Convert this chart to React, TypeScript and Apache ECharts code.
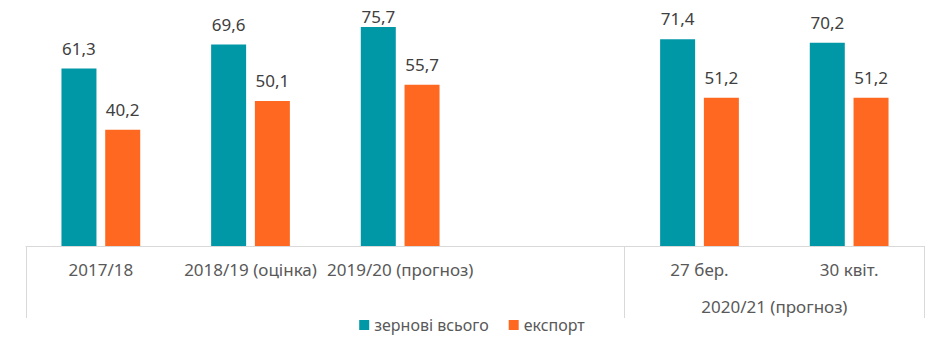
import React, { useEffect, useRef } from "react";
import * as echarts from "echarts";

const categories = ["2017/18", "2018/19 (оцінка)", "2019/20 (прогноз)", "", "27 бер.", "30 квіт."];
const groupLabels = ["", "", "2020/21 (прогноз)"];
const grainTotal: (number | string)[] = [61.3, 69.6, 75.7, "-", 71.4, 70.2];
const exportValues: (number | string)[] = [40.2, 50.1, 55.7, "-", 51.2, 51.2];
const seriesNames = ["зернові всього", "експорт"];
const colors = ["#0097A7", "#FF6820"];

const FONT = "Noto Sans";

export default function App() {
  const ref = useRef<HTMLDivElement>(null);
  useEffect(() => {
    if (!ref.current) return;
    const chart = echarts.init(ref.current, undefined, { renderer: "svg" });
    const label = {
      show: true,
      position: "top" as const,
      distance: 12,
      color: "#404040",
      fontFamily: FONT,
      fontSize: 17,
      formatter: (p: any) => String(p.value).replace(".", ","),
    };
    // the tallest bar's label is tucked closer to the bar (as in the reference) so it isn't clipped
    const maxVal = Math.max(...(grainTotal.filter((v) => typeof v === "number") as number[]));
    const grainData = grainTotal.map((v) =>
      v === maxVal ? { value: v, label: { distance: 2 } } : v
    );
    chart.setOption({
      animation: false,
      textStyle: { fontFamily: FONT },
      grid: { left: 26, right: 20, top: 0, height: 246, containLabel: false },
      legend: {
        bottom: 17,
        left: "center",
        icon: "rect",
        itemWidth: 10,
        itemHeight: 10,
        itemGap: 20,
        textStyle: { color: "#595959", fontSize: 16, fontFamily: FONT },
        data: seriesNames,
      },
      xAxis: [
        {
          type: "category",
          data: categories,
          axisLine: { show: true, lineStyle: { color: "#D9D9D9", width: 1 } },
          axisTick: {
            show: true,
            length: 72,
            interval: (i: number) => i === 0 || i === 4,
            lineStyle: { color: "#D9D9D9", width: 1 },
          },
          axisLabel: { interval: 0, margin: 15, color: "#595959", fontSize: 17, fontFamily: FONT },
        },
        {
          type: "category",
          position: "bottom",
          data: groupLabels,
          axisLine: { show: false },
          axisTick: { show: false },
          axisLabel: { interval: 0, margin: 52, color: "#595959", fontSize: 17, fontFamily: FONT },
        },
      ],
      yAxis: {
        type: "value",
        min: 0,
        max: 85,
        show: false,
        splitLine: { show: false },
      },
      series: [
        {
          name: seriesNames[0],
          type: "bar",
          data: grainData,
          barWidth: 35,
          barGap: "25%",
          itemStyle: { color: colors[0] },
          label,
        },
        {
          name: seriesNames[1],
          type: "bar",
          data: exportValues,
          barWidth: 35,
          barGap: "25%",
          itemStyle: { color: colors[1] },
          label,
        },
      ],
    });
    return () => chart.dispose();
  }, []);
  return (
    <div
      ref={ref}
      style={{ position: "fixed", left: 0, top: 0, width: 944, height: 355, background: "#fff" }}
    />
  );
}
